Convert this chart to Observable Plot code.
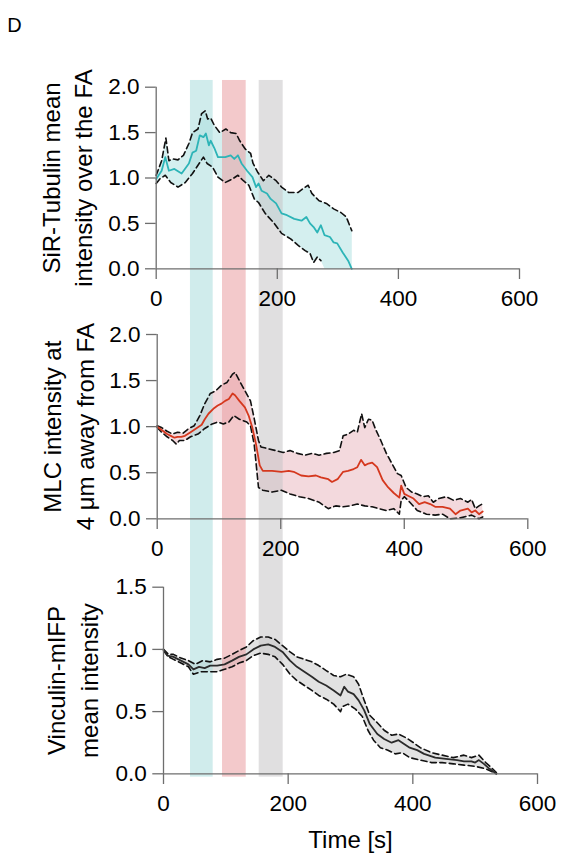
<!DOCTYPE html>
<html>
<head>
<meta charset="utf-8">
<script src="https://cdn.jsdelivr.net/npm/d3@7"></script>
<script src="https://cdn.jsdelivr.net/npm/@observablehq/plot@0.6"></script>
<style>
  body { margin: 0; background: #fff; font-family: "Liberation Sans", Arial, sans-serif; }
  #fig { position: relative; width: 568px; height: 860px; overflow: hidden; background: #fff; }
  .panel { position: absolute; left: 0; }
</style>
</head>
<body>
<div id="fig">
  <div class="panel" id="p1" style="top:0px"></div>
  <div class="panel" id="p2" style="top:315px"></div>
  <div class="panel" id="p3" style="top:565px"></div>
</div>
<script>
// ---------- data (time [s], value) ----------
const panelLetter = "D";
const xTicks = [0, 200, 400, 600];
const yTicks2 = [0, 0.5, 1.0, 1.5, 2.0];
const yTicks15 = [0, 0.5, 1.0, 1.5];

// highlighted time windows (per panel)
const bands1 = [["teal", 56.6, 94.1], ["red", 109.5, 148.6], ["grey", 170.1, 209.7]];
const bands2 = [["teal", 53.9, 90.7], ["red", 105.7, 144.1], ["grey", 165.1, 204.0]];
const bands3 = [["teal", 43.3, 79.7], ["red", 94.7, 132.7], ["grey", 153.5, 192.0]];

// Panel 1: SiR-Tubulin
const tubulinMean = [[0,0.99],[9,1.08],[15,1.23],[21,1.08],[30,1.10],[42,1.05],[54,1.16],[60,1.28],[66,1.30],[72,1.47],[78,1.45],[82,1.49],[87,1.36],[90,1.41],[96,1.33],[102,1.23],[114,1.23],[123,1.25],[129,1.21],[135,1.25],[141,1.16],[150,1.08],[159,1.01],[165,0.90],[169,0.94],[174,0.86],[183,0.83],[189,0.77],[198,0.72],[207,0.61],[216,0.59],[228,0.55],[240,0.53],[248,0.57],[254,0.50],[260,0.46],[266,0.40],[272,0.48],[278,0.37],[287,0.35],[293,0.29],[299,0.28],[308,0.18],[317,0.09],[323,0.0]];
const tubulinUpper = [[0,1.03],[9,1.19],[16,1.44],[21,1.19],[27,1.21],[36,1.20],[45,1.25],[54,1.38],[60,1.50],[69,1.54],[75,1.71],[81,1.74],[85,1.65],[90,1.66],[96,1.58],[105,1.50],[115,1.54],[123,1.50],[132,1.49],[138,1.41],[147,1.32],[156,1.27],[160,1.16],[168,1.06],[177,0.97],[186,1.03],[198,0.97],[207,0.90],[219,0.84],[234,0.84],[242,0.88],[251,0.92],[257,0.83],[269,0.75],[281,0.72],[293,0.66],[305,0.62],[314,0.57],[323,0.42]];
const tubulinLower = [[0,0.94],[6,0.99],[15,1.03],[24,0.95],[36,0.90],[48,0.95],[60,1.05],[69,1.14],[78,1.23],[84,1.16],[93,1.12],[102,1.01],[114,0.95],[126,0.99],[135,1.03],[144,0.97],[153,0.92],[162,0.77],[169,0.73],[180,0.61],[195,0.50],[207,0.39],[222,0.33],[234,0.26],[246,0.20],[254,0.17],[260,0.07],[266,0.13],[272,0.09]];
const tubulinShadeEnd = [[323,0],[278,0]];

// Panel 2: MLC
const mlcMean = [[0,1.00],[4,0.98],[10,0.95],[16,0.92],[22,0.90],[28,0.88],[33,0.89],[39,0.89],[45,0.90],[54,0.94],[63,0.98],[72,1.02],[77,1.08],[83,1.14],[92,1.20],[98,1.23],[104,1.25],[110,1.28],[116,1.30],[122,1.36],[126,1.34],[133,1.28],[142,1.21],[148,1.12],[154,0.99],[160,0.81],[166,0.58],[171,0.52],[186,0.52],[201,0.51],[213,0.52],[221,0.51],[233,0.47],[245,0.46],[257,0.47],[265,0.45],[277,0.43],[283,0.40],[292,0.43],[301,0.51],[309,0.52],[318,0.54],[324,0.56],[330,0.64],[336,0.58],[342,0.60],[348,0.61],[356,0.56],[365,0.42],[374,0.34],[383,0.28],[392,0.23],[395,0.36],[400,0.27],[406,0.25],[415,0.22],[424,0.16],[433,0.18],[442,0.16],[450,0.13],[462,0.13],[474,0.11],[483,0.05],[491,0.09],[503,0.11],[509,0.07],[515,0.09],[521,0.05],[527,0.08]];
const mlcUpper = [[0,1.01],[7,0.99],[16,0.95],[25,0.92],[33,0.94],[42,0.93],[51,0.98],[60,1.01],[69,1.12],[77,1.25],[86,1.36],[95,1.39],[104,1.45],[113,1.48],[122,1.57],[126,1.59],[133,1.50],[142,1.39],[151,1.28],[157,1.09],[164,0.85],[168,0.78],[180,0.76],[192,0.74],[204,0.72],[215,0.74],[227,0.71],[239,0.69],[251,0.71],[262,0.69],[274,0.71],[286,0.72],[295,0.74],[301,0.90],[309,0.92],[318,0.96],[324,0.94],[331,1.14],[336,0.99],[342,1.08],[348,1.07],[353,0.98],[362,0.85],[371,0.71],[380,0.60],[389,0.49],[395,0.47],[403,0.34],[412,0.29],[421,0.27],[430,0.24],[439,0.25],[447,0.18],[456,0.22],[468,0.24],[480,0.20],[491,0.22],[503,0.18],[509,0.21],[515,0.11],[521,0.14],[526,0.16]];
const mlcLower = [[0,0.99],[7,0.94],[16,0.89],[25,0.85],[31,0.81],[36,0.85],[45,0.85],[54,0.89],[66,0.92],[77,0.98],[89,1.03],[98,1.05],[107,1.03],[116,1.05],[124,1.12],[133,1.08],[145,1.05],[151,1.01],[157,0.81],[164,0.34],[171,0.31],[186,0.29],[201,0.31],[215,0.27],[230,0.24],[245,0.22],[262,0.18],[277,0.11],[289,0.14],[301,0.13],[312,0.14],[324,0.16],[336,0.14],[348,0.13],[359,0.11],[371,0.09],[383,0.11],[392,0.05],[395,0.20],[400,0.24],[409,0.18],[421,0.09],[436,0.05],[450,0.04],[462,0.05],[474,0.00],[491,0.01],[509,0.04],[521,0.00],[527,0.02]];

// Panel 3: Vinculin-mIFP
const vinMean = [[0,1.00],[6,0.95],[16,0.94],[28,0.91],[40,0.88],[48,0.84],[57,0.86],[66,0.85],[75,0.87],[86,0.87],[98,0.88],[110,0.91],[121,0.94],[133,0.96],[144,1.00],[156,1.03],[168,1.04],[179,1.02],[191,0.98],[203,0.91],[214,0.86],[226,0.82],[238,0.78],[249,0.74],[261,0.71],[273,0.67],[284,0.63],[290,0.70],[296,0.66],[305,0.64],[313,0.59],[322,0.51],[331,0.40],[343,0.32],[354,0.28],[366,0.25],[377,0.27],[386,0.24],[395,0.21],[407,0.19],[418,0.16],[436,0.13],[453,0.12],[471,0.11],[482,0.10],[494,0.10],[500,0.09],[506,0.11],[514,0.08],[523,0.04],[534,0.00]];
const vinUpper = [[0,1.00],[8,0.96],[16,0.96],[28,0.93],[40,0.91],[51,0.88],[63,0.91],[75,0.90],[86,0.92],[98,0.93],[110,0.96],[121,0.99],[133,1.02],[144,1.07],[156,1.10],[168,1.10],[179,1.08],[191,1.03],[203,0.98],[214,0.94],[226,0.92],[238,0.90],[249,0.87],[261,0.83],[273,0.79],[284,0.78],[293,0.80],[305,0.78],[313,0.72],[322,0.59],[331,0.47],[343,0.41],[354,0.35],[366,0.31],[377,0.32],[389,0.29],[401,0.25],[412,0.21],[430,0.17],[447,0.15],[465,0.13],[482,0.15],[494,0.13],[506,0.15],[517,0.09],[526,0.05],[534,0.01]];
const vinLower = [[0,0.99],[8,0.94],[16,0.92],[28,0.89],[40,0.86],[48,0.80],[60,0.82],[75,0.82],[86,0.82],[98,0.84],[110,0.86],[121,0.89],[133,0.91],[144,0.95],[156,0.97],[168,0.96],[179,0.94],[191,0.88],[203,0.80],[214,0.75],[226,0.71],[238,0.67],[249,0.63],[261,0.60],[273,0.56],[284,0.50],[287,0.54],[296,0.56],[308,0.52],[319,0.46],[328,0.35],[337,0.27],[348,0.21],[360,0.19],[372,0.16],[383,0.17],[395,0.13],[412,0.11],[430,0.09],[447,0.09],[465,0.08],[482,0.07],[500,0.06],[517,0.04],[534,0.00]];

// ---------- styling ----------
const FONT = "'Liberation Sans', Arial, Helvetica, sans-serif";
const bandColor = { teal: "#aadcdc", red: "#e99da1", grey: "#c7c5c7" };
const axisColor = "#6e6e6e";

function pts(arr) { return arr.map(([t, v]) => ({ t, v })); }

function panel(o) {
  const shade = pts([...o.upper, ...(o.shadeEnd || []), ...o.lower.slice().reverse()]);
  const bands = o.bands.map(([name, a, b]) => ({ name, a, b }));
  return Plot.plot({
    width: 568,
    height: o.height,
    marginTop: o.mt, marginBottom: o.mb, marginLeft: o.ml, marginRight: o.mr,
    x: { domain: [0, 600] },
    y: { domain: [0, o.yMax] },
    style: { fontFamily: FONT, fontSize: "22px", color: "#000", background: "transparent", overflow: "hidden" },
    marks: [
      Plot.line(shade, { x: "t", y: "v", fill: o.shadeColor, stroke: "none" }),
      Plot.rect(bands, { x1: "a", x2: "b", y1: () => o.bandLow, y2: () => o.bandHigh, fill: d => bandColor[d.name], fillOpacity: 0.55 }),
      Plot.line(pts(o.upper), { x: "t", y: "v", stroke: "#111", strokeWidth: 1.6, strokeDasharray: "6,3.5" }),
      Plot.line(pts(o.lower), { x: "t", y: "v", stroke: "#111", strokeWidth: 1.6, strokeDasharray: "6,3.5" }),
      Plot.line(pts(o.mean), { x: "t", y: "v", stroke: o.meanColor, strokeWidth: 1.8 }),
      Plot.ruleX([0], { y1: 0, y2: o.yMax, stroke: axisColor, strokeWidth: 1.3 }),
      Plot.ruleY([0], { x1: 0, x2: 600, stroke: axisColor, strokeWidth: 1.3 }),
      Plot.axisY(o.yTicks, { tickSize: 10.7, tickPadding: 6, tickFormat: d3.format(".1f"), stroke: axisColor, strokeWidth: 1.3, fill: "#000", fontSize: 22.5, label: null }),
      Plot.axisX(xTicks, { tickSize: 10.7, tickPadding: 11, tickFormat: d3.format("d"), stroke: axisColor, strokeWidth: 1.3, fill: "#000", fontSize: 22.5, label: null }),
      Plot.text([o.title], { text: d => d, frameAnchor: "left", rotate: -90, dx: o.titleDx, textAnchor: "middle", lineAnchor: "middle", lineHeight: 1.36, fontSize: 24, fill: "#000" }),
      ...(o.xTitle ? [Plot.text([o.xTitle], { text: d => d, frameAnchor: "bottom", dy: 67, lineAnchor: "middle", fontSize: 24, fill: "#000" })] : []),
      ...(o.letter ? [Plot.text([o.letter], { text: d => d, frameAnchor: "top-left", dx: -141.7, dy: -62, textAnchor: "middle", lineAnchor: "middle", fontSize: 20, fill: "#000" })] : [])
    ]
  });
}

document.getElementById("p1").append(panel({
  height: 315, mt: 86.7, mb: 46.7, ml: 155.7, mr: 49,
  yMax: 2, yTicks: yTicks2, bands: bands1, bandLow: -1, bandHigh: 2.074,
  upper: tubulinUpper, lower: tubulinLower, mean: tubulinMean, shadeEnd: tubulinShadeEnd,
  shadeColor: "#d4efef", meanColor: "#2db4b7",
  title: "SiR-Tubulin mean\nintensity over the FA", titleDx: -90.5,
  letter: panelLetter
}));

document.getElementById("p2").append(panel({
  height: 250, mt: 19, mb: 46.7, ml: 156.7, mr: 40.7,
  yMax: 2, yTicks: yTicks2, bands: bands2, bandLow: -1, bandHigh: 3,
  upper: mlcUpper, lower: mlcLower, mean: mlcMean,
  shadeColor: "#f3d9dd", meanColor: "#d5381e",
  title: "MLC intensity at\n4 μm away from FA", titleDx: -90
}));

document.getElementById("p3").append(panel({
  height: 295, mt: 21.7, mb: 86.7, ml: 163, mr: 31,
  yMax: 1.5, yTicks: yTicks15, bands: bands3, bandLow: -0.027, bandHigh: 3,
  upper: vinUpper, lower: vinLower, mean: vinMean,
  shadeColor: "#e2e2e2", meanColor: "#2b2b2b",
  title: "Vinculin-mIFP\nmean intensity", titleDx: -92.7,
  xTitle: "Time [s]"
}));
</script>
</body>
</html>
